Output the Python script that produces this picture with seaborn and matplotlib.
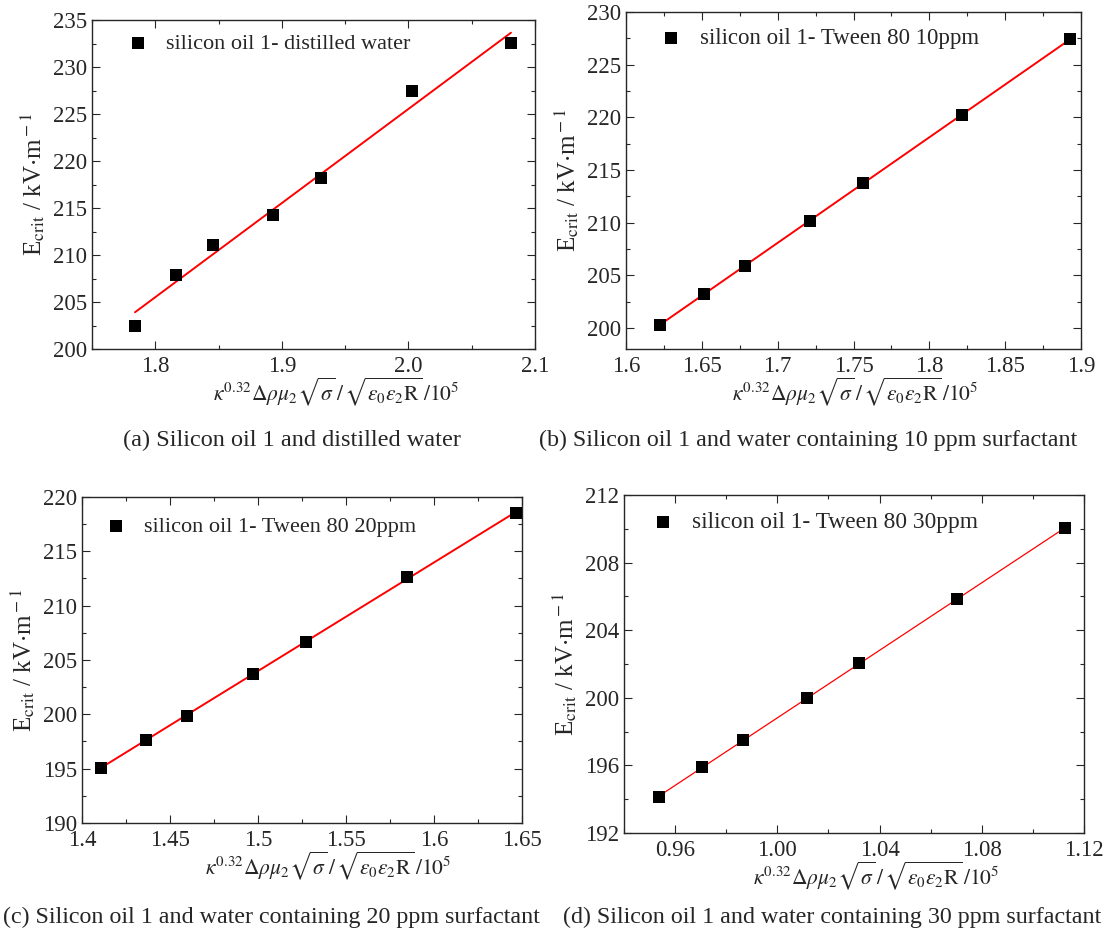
import numpy as np
import matplotlib
matplotlib.use('Agg')
import matplotlib.pyplot as plt
from matplotlib.ticker import MultipleLocator, FormatStrFormatter
import seaborn as sns

sns.set_style('ticks')
plt.rcParams['font.family'] = ['Liberation Serif', 'DejaVu Serif']
plt.rcParams['mathtext.fontset'] = 'stix'
plt.rcParams['xtick.direction'] = 'in'
plt.rcParams['ytick.direction'] = 'in'

# data
x_a = [1.784, 1.816, 1.8455, 1.8927, 1.931, 2.003, 2.081]
y_a = [202.5, 207.9, 211.1, 214.3, 218.2, 227.45, 232.55]
x_b = [1.6222, 1.6515, 1.6782, 1.7211, 1.7562, 1.8216, 1.8929]
y_b = [200.28, 203.2, 205.9, 210.15, 213.8, 220.25, 227.4]
x_c = [1.4109, 1.4363, 1.4596, 1.4971, 1.5275, 1.5845, 1.6466]
y_c = [195.08, 197.65, 199.89, 203.74, 206.62, 212.68, 218.5]
x_d = [0.9535, 0.9706, 0.9865, 1.0116, 1.032, 1.0705, 1.1125]
y_d = [194.15, 195.88, 197.48, 199.96, 202.03, 205.85, 210.05]

labels = ['silicon oil 1- distilled water',
          'silicon oil 1- Tween 80 10ppm',
          'silicon oil 1- Tween 80 20ppm',
          'silicon oil 1- Tween 80 30ppm']
captions = ['(a) Silicon oil 1 and distilled water',
            '(b) Silicon oil 1 and water containing 10 ppm surfactant',
            '(c) Silicon oil 1 and water containing 20 ppm surfactant',
            '(d) Silicon oil 1 and water containing 30 ppm surfactant']

W, H = 1107, 938
fig = plt.figure(figsize=(W / 100, H / 100), dpi=100)

# axes boxes in pixels: left, right, top, bottom
boxes = [(92, 535, 20, 349), (626, 1081, 12, 349),
         (82, 522, 497, 823), (624, 1084, 495, 833)]
xlims = [(1.75, 2.1), (1.6, 1.9), (1.4, 1.65), (0.94, 1.12)]
ylims = [(200, 235), (198, 230), (190, 220), (192, 212)]
xmaj = [0.1, 0.05, 0.05, 0.04]
ymaj = [5, 5, 5, 4]
xfmt = ['%.1f', '%g', '%g', '%.2f']
lws = [1.4, 1.4, 1.4, 0.9]
cap_pos = [(292, 440), (808, 440), (271, 917), (832, 917)]
cap_fs = [17.5, 17.3, 17.3, 17.3]
# legend marker centre (pixels from axes left / top)
leg_off = [(46, 27), (45, 30), (34, 33), (39, 31)]
leg_fs = [16, 16.5, 16, 16.8]
# horizontal shift of the x label centre, pixels
xlab_shift = [23, 2, 26, 22]

xs = [x_a, x_b, x_c, x_d]
ys = [y_a, y_b, y_c, y_d]

xlabel = r'$\kappa^{0.32}\Delta\rho\mu_2\sqrt{\sigma}\,/\,\sqrt{\varepsilon_0\varepsilon_2\mathrm{R}}\,/10^5$'
ylabel = r'E$_{\rm crit}$ / kV$\cdot$m$^{\rm -1}$'

for i in range(4):
    l, r, t, b = boxes[i]
    w, h = r - l, b - t
    ax = fig.add_axes([l / W, 1 - b / H, w / W, h / H])
    x = np.array(xs[i])
    y = np.array(ys[i])
    sns.scatterplot(x=x, y=y, ax=ax, marker='s', s=70, color='black',
                    edgecolor='black', linewidth=0, label=labels[i], zorder=3)
    k, c0 = np.polyfit(x, y, 1)
    sns.lineplot(x=x, y=k * x + c0, ax=ax, color='red', linewidth=lws[i], zorder=2)
    ax.set_xlim(*xlims[i])
    ax.set_ylim(*ylims[i])
    ax.xaxis.set_major_locator(MultipleLocator(xmaj[i]))
    ax.xaxis.set_minor_locator(MultipleLocator(xmaj[i] / 2))
    ax.yaxis.set_major_locator(MultipleLocator(ymaj[i]))
    ax.yaxis.set_minor_locator(MultipleLocator(ymaj[i] / 2))
    ax.xaxis.set_major_formatter(FormatStrFormatter(xfmt[i]))
    ax.tick_params(which='both', top=True, right=True, labelsize=16.5, width=0.8)
    ax.tick_params(which='major', length=6)
    ax.tick_params(which='minor', length=3)
    ax.tick_params(axis='x', pad=5)
    for s in ax.spines.values():
        s.set_linewidth(1.0)
    ax.set_xlabel(xlabel, fontsize=15.5, labelpad=-1)
    ax.xaxis.label.set_x(0.5 + xlab_shift[i] / w)
    ax.set_ylabel(ylabel, fontsize=18, labelpad=4)

    # place legend so the marker sits where the reference has it
    fs = leg_fs[i]
    em = fs * 100 / 72
    hl, pad, bp = 1.0, 0.75, 0.4
    mx, my = leg_off[i]
    ax0 = mx - hl * em / 2 - bp * em
    ay0 = my - 0.5 * em * 1.2 - bp * em
    ax.legend(loc='upper left', frameon=False, fontsize=fs,
              handletextpad=pad, handlelength=hl, borderaxespad=0,
              borderpad=bp, bbox_to_anchor=(ax0 / w, 1 - ay0 / h))
    cx, cy = cap_pos[i]
    fig.text(cx / W, 1 - cy / H, captions[i], ha='center', va='center', fontsize=cap_fs[i])

fig.savefig('out.png', dpi=100)
